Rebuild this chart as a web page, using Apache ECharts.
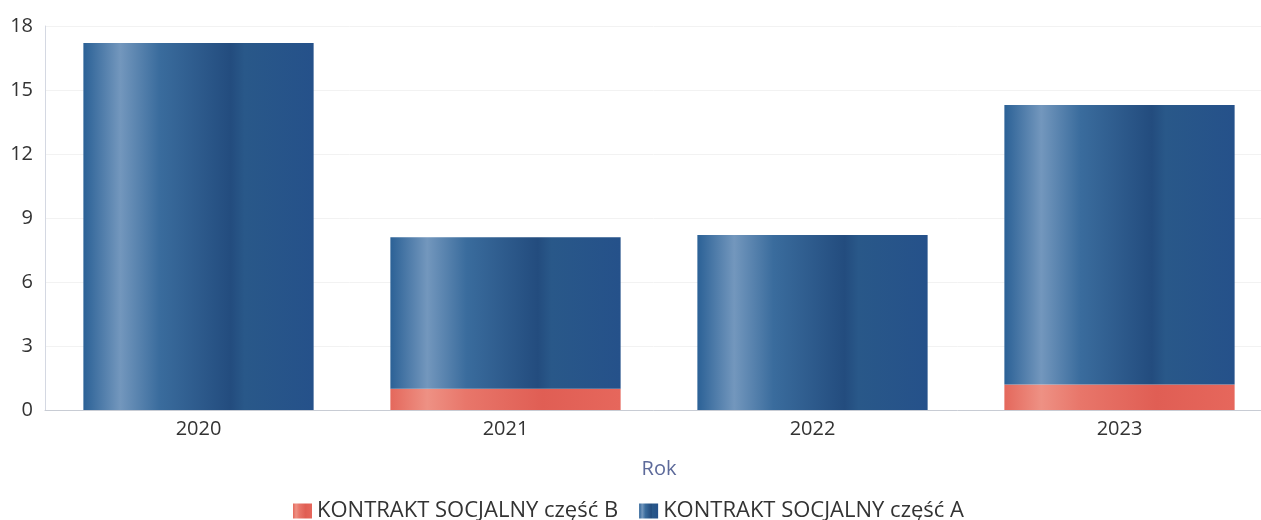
<!DOCTYPE html>
<html>
<head>
<meta charset="utf-8">
<script src="https://cdn.jsdelivr.net/npm/echarts@6/dist/echarts.min.js"></script>
<style>
  html, body { margin: 0; padding: 0; background: #fff; }
  #chartmain { width: 1261px; height: 520px; }
</style>
</head>
<body>
<div id="chartmain"></div>
<script>
// dane
var years = ['2020', '2021', '2022', '2023'];
var czescB = [0, 1.0, 0, 1.2];
var czescA = [17.2, 7.1, 8.2, 13.1];
var yTicks = [0, 3, 6, 9, 12, 15, 18];

var myChart = echarts.init(document.getElementById('chartmain'));

// cieniowanie słupków (poziomy gradient)
var blueGrad = new echarts.graphic.LinearGradient(0, 0, 1, 0, [
    { offset: 0, color: '#2b6196' },
    { offset: 0.16, color: '#7397bd' },
    { offset: 0.33, color: '#3a6c9d' },
    { offset: 0.64, color: '#234c7e' },
    { offset: 0.7, color: '#295889' },
    { offset: 1, color: '#25518a' }
]);
var redGrad = new echarts.graphic.LinearGradient(0, 0, 1, 0, [
    { offset: 0, color: '#e4685c' },
    { offset: 0.16, color: '#ee9184' },
    { offset: 0.33, color: '#e8766a' },
    { offset: 0.66, color: '#e05e54' },
    { offset: 1, color: '#e6675c' }
]);

var option = {
    animation: false,
    textStyle: { fontFamily: 'Open Sans' },
    // siatka wychodzi poza prawą krawędź (jak w oryginale)
    grid: { left: 45, right: -12, top: 26, bottom: 110, containLabel: false, outerBoundsMode: 'none' },
    legend: {
        left: 288,
        top: 495,
        icon: 'rect',
        itemWidth: 19,
        itemHeight: 15,
        itemGap: 21,
        textStyle: { fontSize: 22, color: '#333', fontFamily: 'Open Sans' },
        data: ['KONTRAKT SOCJALNY część B', 'KONTRAKT SOCJALNY część A']
    },
    xAxis: {
        type: 'category',
        data: years,
        name: 'Rok',
        nameLocation: 'middle',
        nameGap: 49,
        nameTextStyle: { fontSize: 20, color: '#5d6a9a' },
        axisLine: { lineStyle: { color: '#c8ccd4' } },
        axisTick: { show: false },
        axisLabel: { fontSize: 20, color: '#333', margin: 9 }
    },
    yAxis: {
        type: 'value',
        min: yTicks[0],
        max: yTicks[yTicks.length - 1],
        interval: 3,
        axisLine: { show: true, lineStyle: { color: '#d4d8e2' } },
        axisTick: { show: false },
        splitLine: { lineStyle: { color: '#f2f2f2' } },
        axisLabel: { fontSize: 20, color: '#333', margin: 12 }
    },
    series: [
        {
            name: 'KONTRAKT SOCJALNY część B',
            type: 'bar',
            stack: 'total',
            barWidth: '75%',
            itemStyle: { color: redGrad },
            data: czescB
        },
        {
            name: 'KONTRAKT SOCJALNY część A',
            type: 'bar',
            stack: 'total',
            barWidth: '75%',
            itemStyle: { color: blueGrad },
            data: czescA
        }
    ]
};

myChart.setOption(option);
</script>
</body>
</html>
